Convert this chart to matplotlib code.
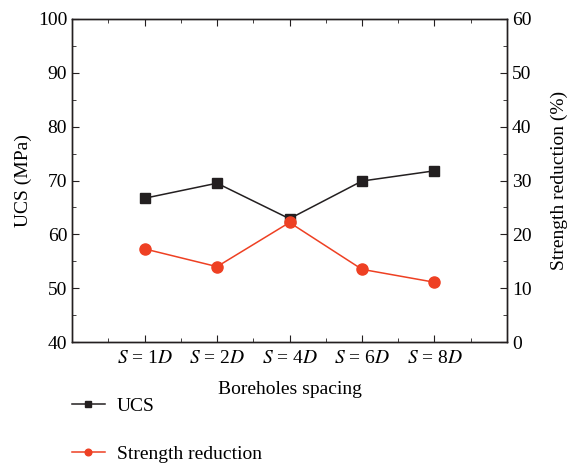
import matplotlib
matplotlib.use("Agg")
import matplotlib.pyplot as plt
from matplotlib.ticker import MultipleLocator

plt.rcParams['font.family'] = ['Liberation Serif', 'DejaVu Serif']
plt.rcParams['mathtext.fontset'] = 'stix'
plt.rcParams['font.size'] = 14

# data
spacing = ['$S$ = 1$D$', '$S$ = 2$D$', '$S$ = 4$D$', '$S$ = 6$D$', '$S$ = 8$D$']
ucs = [66.7, 69.5, 62.9, 69.9, 71.8]
reduction = [17.3, 14.0, 22.2, 13.5, 11.1]

black = '#231f20'
red = '#ee4023'

fig = plt.figure(figsize=(5.73, 4.63), dpi=100)
ax = fig.add_axes([0.1257, 0.2613, 0.7591, 0.6977])
ax2 = ax.twinx()

xs = list(range(1, len(spacing) + 1))
l1, = ax.plot(xs, ucs, color=black, lw=1.1, marker='s', ms=7, label='UCS')
l2, = ax2.plot(xs, reduction, color=red, lw=1.1, marker='o', ms=8, label='Strength reduction')

ax.set_xlim(0, 6)
ax.set_ylim(40, 100)
ax2.set_ylim(0, 60)
ax.set_xticks(xs)
ax.set_xticklabels(spacing)
ax.xaxis.set_minor_locator(MultipleLocator(0.5))
ax.yaxis.set_major_locator(MultipleLocator(10))
ax.yaxis.set_minor_locator(MultipleLocator(5))
ax2.yaxis.set_major_locator(MultipleLocator(10))
ax2.yaxis.set_minor_locator(MultipleLocator(5))

ax.tick_params(which='both', direction='in', top=True, color=black)
ax.tick_params(which='major', length=5)
ax.tick_params(which='minor', length=3)
ax.tick_params(axis='x', pad=6)
ax2.tick_params(which='both', direction='in', color=black)
ax2.tick_params(which='major', length=5)
ax2.tick_params(which='minor', length=3)
for a in (ax, ax2):
    for s in a.spines.values():
        s.set_color(black)
        s.set_linewidth(1.0)

ax.set_xlabel('Boreholes spacing', labelpad=10)
ax.set_ylabel('UCS (MPa)', labelpad=4)
ax2.set_ylabel('Strength reduction (%)', labelpad=14)

fig.legend([l1, l2], ['UCS', 'Strength reduction'], loc='upper left',
           bbox_to_anchor=(0.095, 0.18), frameon=False, handlelength=1.7,
           handletextpad=0.6, labelspacing=1.55, markerscale=0.6)

fig.savefig('out.png', dpi=100)
